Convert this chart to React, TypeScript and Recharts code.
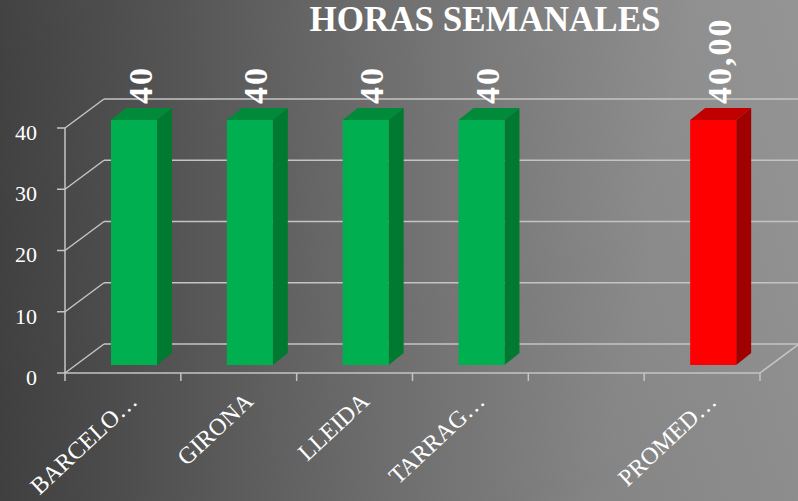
import { BarChart, Bar, XAxis, YAxis, CartesianGrid, LabelList } from 'recharts';

const categories = ['BARCELO…', 'GIRONA', 'LLEIDA', 'TARRAG…', '', 'PROMED…'];
const hours = [40, 40, 40, 40, null, 40];
const valueLabels = ['40', '40', '40', '40', '', '40,00'];
const barKinds = ['city', 'city', 'city', 'city', 'none', 'average'];
const yTicks = [0, 10, 20, 30, 40];

const data = categories.map((name, i) => ({
  name,
  hours: hours[i],
  label: valueLabels[i],
  kind: barKinds[i],
}));

const palette: Record<string, { front: string; side: string; top: string }> = {
  city: { front: '#00b050', side: '#007a30', top: '#008a3a' },
  average: { front: '#ff0000', side: '#a00000', top: '#c00000' },
};

// 3D look: wall depth and where the bars sit inside it
const WALL_DX = 39;
const WALL_DY = -29;
const BAR_DX = 11;
const BAR_DY = -8;
const BAR_DEPTH_X = 15;
const BAR_DEPTH_Y = -12;

const FONT = '"Liberation Serif", "DejaVu Serif", serif';
const LINE = '#c4c4c4';

function Bar3D(props: any) {
  const { x, y, width, height, payload } = props;
  const c = payload && palette[payload.kind];
  if (!c || payload.hours == null || !height) return null;
  const fx = x + BAR_DX;
  const fy = y + BAR_DY;
  const r = fx + width;
  const b = fy + height;
  return (
    <g>
      <polygon
        points={`${fx},${fy} ${fx + BAR_DEPTH_X},${fy + BAR_DEPTH_Y} ${r + BAR_DEPTH_X},${fy + BAR_DEPTH_Y} ${r},${fy}`}
        fill={c.top}
      />
      <polygon
        points={`${r},${fy} ${r + BAR_DEPTH_X},${fy + BAR_DEPTH_Y} ${r + BAR_DEPTH_X},${b + BAR_DEPTH_Y} ${r},${b}`}
        fill={c.side}
      />
      <rect x={fx} y={fy} width={width} height={height} fill={c.front} />
    </g>
  );
}

function renderValueLabel(props: any) {
  const { x, y, width, value } = props;
  if (!value) return null;
  const cx = x + BAR_DX + (width + BAR_DEPTH_X) / 2 + 10;
  const cy = y + BAR_DY - 16;
  return (
    <text
      x={cx}
      y={cy}
      transform={`rotate(-90 ${cx} ${cy})`}
      textAnchor="start"
      fill="#ffffff"
      fontFamily={FONT}
      fontWeight="bold"
      fontSize={34}
      letterSpacing={2}
    >
      {value}
    </text>
  );
}

function CategoryTick(props: any) {
  const { x, y, payload, index, width, visibleTicksCount } = props;
  const half = payload?.offset || width / visibleTicksCount / 2;
  const axisY = y - 10;
  const left = x - half;
  const right = x + half;
  const last = index === visibleTicksCount - 1;
  return (
    <g>
      <line x1={left} y1={axisY} x2={left} y2={axisY + 8} stroke={LINE} strokeWidth={1.5} />
      {last && (
        <>
          <line x1={right} y1={axisY} x2={right} y2={axisY + 8} stroke={LINE} strokeWidth={1.5} />
          <line x1={right} y1={axisY} x2={right + WALL_DX} y2={axisY + WALL_DY} stroke={LINE} strokeWidth={1.5} />
        </>
      )}
      {payload.value && (
        <g transform={`translate(${x + 16},${y + 20}) rotate(-43)`}>
          <text textAnchor="end" fill="#ffffff" fontFamily={FONT} fontSize={24}>
            {payload.value}
          </text>
        </g>
      )}
    </g>
  );
}

function WallLine(props: any) {
  const { x1, y1, x2, key } = props;
  return (
    <g key={key}>
      <line x1={x1} y1={y1} x2={x1 + WALL_DX} y2={y1 + WALL_DY} stroke={LINE} strokeWidth={1.5} />
      <line
        x1={x1 + WALL_DX}
        y1={y1 + WALL_DY}
        x2={x2 + WALL_DX}
        y2={y1 + WALL_DY}
        stroke={LINE}
        strokeWidth={1.5}
      />
    </g>
  );
}

export default function App() {
  return (
    <div
      style={{
        position: 'absolute',
        left: 0,
        top: 0,
        width: 798,
        height: 501,
        background:
          'linear-gradient(to bottom, rgba(255,255,255,0.05), rgba(0,0,0,0.04)), linear-gradient(100deg, #383838 0%, #4c4c4c 20%, #6e6e6e 50%, #8a8a8a 78%, #939393 100%)',
        overflow: 'hidden',
      }}
    >
      <div
        style={{
          position: 'absolute',
          left: 285,
          width: 400,
          top: 0,
          textAlign: 'center',
          color: '#ffffff',
          fontFamily: FONT,
          fontWeight: 'bold',
          fontSize: 35,
          lineHeight: '40px',
        }}
      >
        HORAS SEMANALES
      </div>
      <BarChart
        width={798}
        height={501}
        data={data}
        margin={{ top: 128, right: 38, bottom: 28, left: 0 }}
        barSize={46}
        style={{ position: 'absolute', left: 0, top: 0 }}
      >
        <CartesianGrid vertical={false} horizontal={(p: any) => <WallLine {...p} />} />
        <XAxis
          dataKey="name"
          interval={0}
          height={100}
          tickLine={false}
          tickSize={8}
          tickMargin={2}
          axisLine={{ stroke: LINE, strokeWidth: 1.5 }}
          tick={<CategoryTick />}
        />
        <YAxis
          width={65}
          domain={[0, 40]}
          ticks={yTicks}
          tickSize={8}
          tickMargin={20}
          axisLine={{ stroke: LINE, strokeWidth: 1.5 }}
          tickLine={{ stroke: LINE, strokeWidth: 1.5 }}
          tick={{ fill: '#ffffff', fontSize: 22, fontFamily: FONT, dy: 4 }}
        />
        <Bar dataKey="hours" shape={(p: any) => <Bar3D {...p} />} isAnimationActive={false}>
          <LabelList dataKey="label" content={renderValueLabel} />
        </Bar>
      </BarChart>
    </div>
  );
}
